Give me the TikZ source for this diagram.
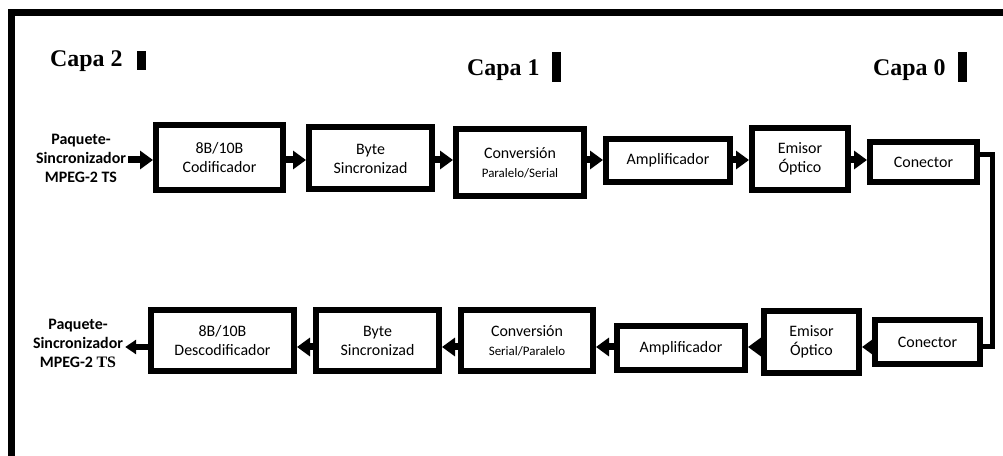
\documentclass[tikz,border=0pt]{standalone}
\usepackage{fontspec}
\setmainfont{Liberation Serif}
\newfontfamily\calib{Carlito}
\usetikzlibrary{arrows.meta}
\begin{document}
\begin{tikzpicture}[x=1bp,y=-1bp,
  box/.style={draw, line width=6bp, inner sep=0pt, align=center,
    font=\calib\fontsize{16}{19}\selectfont},
  arr/.style={line width=7bp, -{Triangle[length=13bp,width=18bp]}},
  outarr/.style={line width=6bp, -{Triangle[length=11bp,width=14bp]}},
  side/.style={align=center, inner sep=2bp, font=\calib\bfseries\fontsize{16}{19}\selectfont},
  capa/.style={anchor=base west, inner sep=0pt, font=\bfseries\fontsize{24}{26}\selectfont},
  link/.style={line width=5bp}]
\useasboundingbox (0,0) rectangle (1003,456);
% frame
\draw[line width=7bp, line join=miter] (11.5,470) -- (11.5,12.5) -- (1010,12.5);
% layer labels
\node[capa] (capa2) at (50,67) {Capa 2};
\fill (137,51) rectangle (146,70);
\node[capa] (capa1) at (467,76) {Capa 1};
\fill (552,52) rectangle (561,82);
\node[capa] (capa0) at (873,76) {Capa 0};
\fill (958,52) rectangle (967,82);
% rows
\coordinate (r1) at (0,160);
\coordinate (r2) at (0,347);
% top row
\node[side] (inL) at (81,158) {Paquete-\\Sincronizador\\MPEG-2 TS};
\node[box, minimum width=127bp, minimum height=65bp] (t1) at (219.5,157.5) {8B/10B\\Codificador};
\node[box, minimum width=123bp, minimum height=62bp] (t2) at (370.5,158.5) {Byte\\Sincronizad};
\node[box, minimum width=128bp, minimum height=67bp] (t3) at (520,162.5) {Conversión\\{\calib\fontsize{13}{15}\selectfont Paralelo/Serial}};
\node[box, minimum width=124bp, minimum height=43bp] (t4) at (668,160.5) {Amplificador};
\node[box, minimum width=96bp, minimum height=62bp] (t5) at (800,159) {Emisor\\Óptico};
\node[box, minimum width=107bp, minimum height=40bp] (t6) at (923.5,162) {Conector};
\draw[arr] (inL.east |- r1) -- (t1.west |- r1);
\draw[arr] (t1.east |- r1) -- (t2.west |- r1);
\draw[arr] (t2.east |- r1) -- (t3.west |- r1);
\draw[arr] (t3.east |- r1) -- (t4.west |- r1);
\draw[arr] (t4.east |- r1) -- (t5.west |- r1);
\draw[arr] (t5.east |- r1) -- (t6.west |- r1);
% bottom row
\node[side] (outL) at (78,343) {Paquete-\\Sincronizador\\MPEG-2 {\rmfamily TS}};
\node[box, minimum width=143bp, minimum height=61bp] (b1) at (222.5,340.5) {8B/10B\\Descodificador};
\node[box, minimum width=123bp, minimum height=61bp] (b2) at (377.5,340.5) {Byte\\Sincronizad};
\node[box, minimum width=132bp, minimum height=61bp] (b3) at (527,340.5) {Conversión\\{\calib\fontsize{13}{15}\selectfont Serial/Paralelo}};
\node[box, minimum width=128bp, minimum height=44bp] (b4) at (681,348) {Amplificador};
\node[box, minimum width=95bp, minimum height=62bp] (b5) at (811.5,342) {Emisor\\Óptico};
\node[box, minimum width=105bp, minimum height=44bp] (b6) at (927.5,342) {Conector};
\draw[arr] (b6.west |- r2) -- (b5.east |- r2);
\draw[arr] (b5.west |- r2) -- (b4.east |- r2);
\draw[arr] (b4.west |- r2) -- (b3.east |- r2);
\draw[arr] (b3.west |- r2) -- (b2.east |- r2);
\draw[arr] (b2.west |- r2) -- (b1.east |- r2);
\draw[outarr] (b1.west |- r2) -- (outL.east |- r2);
% loop connector
\coordinate (c1) at (992,155);
\coordinate (c2) at (992,347);
\draw[link] (t6.east |- c1) -- (c1) -- (c2) -- (b6.east |- c2);
\end{tikzpicture}
\end{document}
